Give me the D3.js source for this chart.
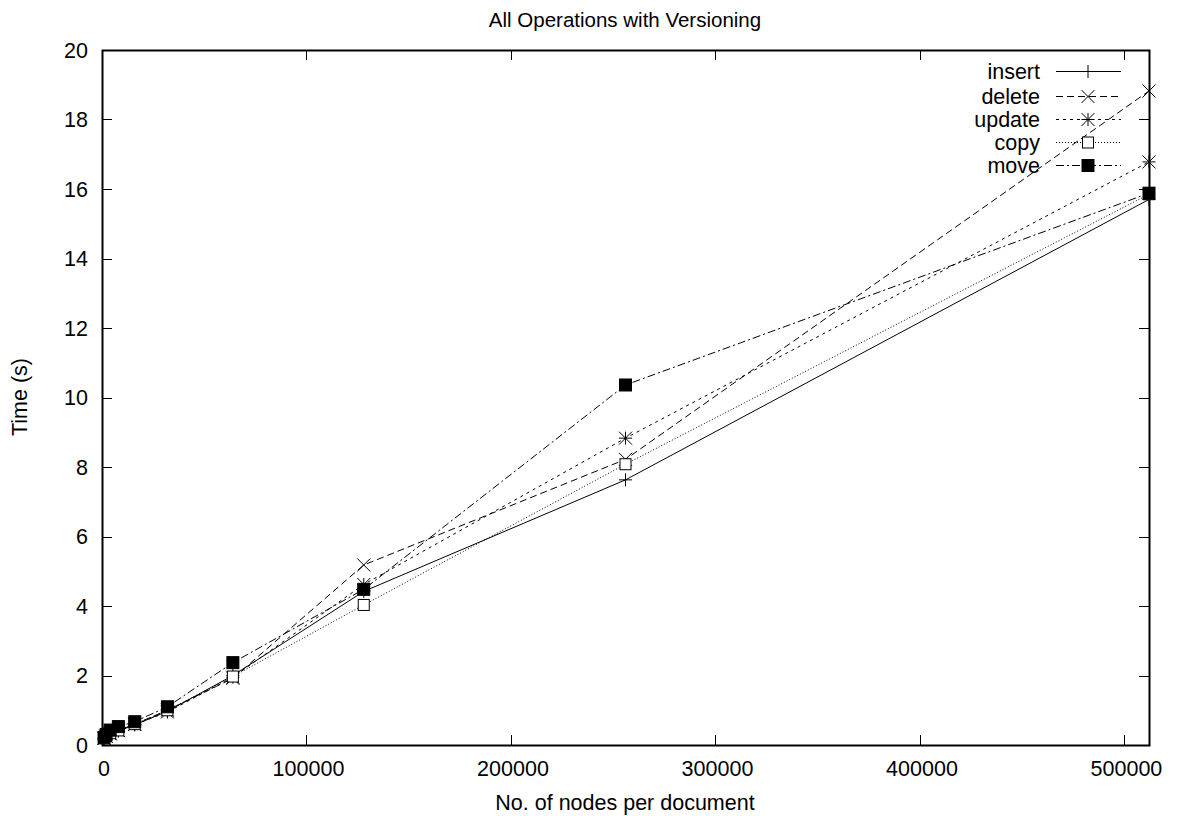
<!DOCTYPE html>
<html><head><meta charset="utf-8">
<script src="https://cdn.jsdelivr.net/npm/d3@7"></script>
<style>body{margin:0;background:#fff}svg{display:block}text{font-family:"Liberation Sans",Arial,sans-serif;fill:#000}</style>
</head><body><svg id="c" width="1178" height="816"></svg>
<script>
const nodes = [1000, 2000, 4000, 8000, 16000, 32000, 64000, 128000, 256000, 512000];
const insertT = [0.18, 0.24, 0.32, 0.40, 0.58, 0.97, 2.00, 4.42, 7.63, 15.70];
const deleteT = [0.19, 0.25, 0.33, 0.42, 0.60, 1.00, 1.92, 5.18, 8.22, 18.82];
const updateT = [0.19, 0.25, 0.32, 0.41, 0.59, 0.95, 1.95, 4.62, 8.83, 16.78];
const copyT   = [0.19, 0.26, 0.34, 0.42, 0.60, 1.00, 1.97, 4.03, 8.08, 15.85];
const moveT   = [0.22, 0.30, 0.43, 0.53, 0.67, 1.10, 2.37, 4.48, 10.36, 15.88];
const seriesNames = ["insert", "delete", "update", "copy", "move"];
const xTicks = [0, 100000, 200000, 300000, 400000, 500000];
const yTicks = [0, 2, 4, 6, 8, 10, 12, 14, 16, 18, 20];

const series = [
  {name: seriesNames[0], vals: insertT, dash: null, marker: "plus"},
  {name: seriesNames[1], vals: deleteT, dash: "7,4", marker: "cross"},
  {name: seriesNames[2], vals: updateT, dash: "3,4", marker: "star"},
  {name: seriesNames[3], vals: copyT, dash: "1,2", marker: "box"},
  {name: seriesNames[4], vals: moveT, dash: "8,3,2,3", marker: "fbox"}
];

const L = 102, R = 1149, T = 50, B = 745;
const FS = 21.5;
const svg = d3.select("#c");
const x = d3.scaleLinear().domain([0, 512000]).range([L, R]);
const y = d3.scaleLinear().domain([0, 20]).range([B, T]);

// ticks (inward, mirrored)
const g = svg.append("g").attr("stroke", "#000").attr("stroke-width", 1);
yTicks.forEach(v => {
  const yy = Math.round(y(v)) + 0.5;
  if (v > 0 && v < 20) {
    g.append("line").attr("x1", L).attr("x2", L + 10).attr("y1", yy).attr("y2", yy);
    g.append("line").attr("x1", R - 10).attr("x2", R).attr("y1", yy).attr("y2", yy);
  }
  svg.append("text").attr("x", L - 14).attr("y", y(v)).attr("dy", "0.35em")
    .attr("text-anchor", "end").attr("font-size", FS).text(v);
});
xTicks.forEach(v => {
  const xx = Math.round(x(v)) + 0.5;
  if (v > 0) {
    g.append("line").attr("x1", xx).attr("x2", xx).attr("y1", B).attr("y2", B - 10);
    g.append("line").attr("x1", xx).attr("x2", xx).attr("y1", T).attr("y2", T + 10);
  }
  svg.append("text").attr("x", x(v) + 2).attr("y", B + 31)
    .attr("text-anchor", "middle").attr("font-size", FS).text(v);
});

svg.append("rect").attr("x", L + 0.5).attr("y", T + 0.5).attr("width", R - L).attr("height", B - T)
  .attr("fill", "none").attr("stroke", "#000").attr("stroke-width", 2);

svg.append("text").attr("x", 625).attr("y", 27).attr("text-anchor", "middle").attr("font-size", 20.5)
  .text("All Operations with Versioning");
svg.append("text").attr("x", 625).attr("y", 810).attr("text-anchor", "middle").attr("font-size", FS)
  .text("No. of nodes per document");
svg.append("text").attr("transform", "translate(27,397) rotate(-90)").attr("text-anchor", "middle")
  .attr("font-size", FS).text("Time (s)");

function marker(sel, type, cx, cy) {
  const s = 6.5;
  const m = sel.append("g").attr("transform", `translate(${cx},${cy})`).attr("stroke", "#000").attr("stroke-width", 1).attr("fill", "none");
  if (type === "plus" || type === "star") {
    m.append("line").attr("x1", -s).attr("x2", s).attr("y1", 0).attr("y2", 0);
    m.append("line").attr("x1", 0).attr("x2", 0).attr("y1", -s).attr("y2", s);
  }
  if (type === "cross" || type === "star") {
    m.append("line").attr("x1", -s).attr("x2", s).attr("y1", -s).attr("y2", s);
    m.append("line").attr("x1", -s).attr("x2", s).attr("y1", s).attr("y2", -s);
  }
  if (type === "box") {
    m.append("rect").attr("x", -5.5).attr("y", -5.5).attr("width", 11).attr("height", 11).attr("fill", "#fff");
  }
  if (type === "fbox") {
    m.append("rect").attr("x", -6).attr("y", -6).attr("width", 12).attr("height", 12).attr("fill", "#000");
  }
}

const line = d3.line().x(d => x(d[0])).y(d => y(d[1]));
const plot = svg.append("g");
series.forEach(s => {
  const pts = nodes.map((n, i) => [n, s.vals[i]]);
  plot.append("path").attr("d", line(pts)).attr("fill", "none").attr("stroke", "#000")
    .attr("stroke-width", 1).attr("stroke-dasharray", s.dash);
});
series.forEach(s => {
  nodes.forEach((n, i) => marker(plot, s.marker, x(n), y(s.vals[i])));
});

// legend
const legY = [71, 96, 119, 142, 165];
series.forEach((s, i) => {
  const ly = legY[i];
  svg.append("text").attr("x", 1040).attr("y", ly).attr("dy", "0.35em").attr("text-anchor", "end")
    .attr("font-size", FS).text(s.name);
  svg.append("line").attr("x1", 1056).attr("x2", 1121).attr("y1", ly + 0.5).attr("y2", ly + 0.5)
    .attr("stroke", "#000").attr("stroke-width", 1).attr("stroke-dasharray", s.dash);
  marker(svg, s.marker, 1088, ly + 0.5);
});
</script></body></html>
